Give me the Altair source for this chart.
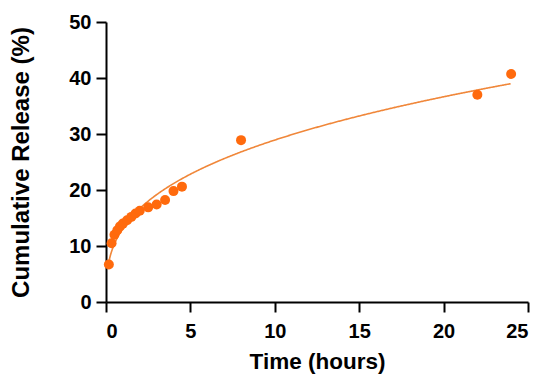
import altair as alt
import numpy as np
import pandas as pd

time_h = [0.17, 0.33, 0.5, 0.67, 0.83, 1.0, 1.25, 1.5, 1.75, 2.0, 2.5, 3.0, 3.5, 4.0, 4.5, 8.0, 22.0, 24.0]
release = [6.7, 10.5, 12.0, 12.8, 13.5, 14.0, 14.6, 15.2, 15.8, 16.3, 16.9, 17.4, 18.2, 19.8, 20.6, 28.9, 37.0, 40.7]

df = pd.DataFrame({"t": time_h, "y": release})

# Power-law (Korsmeyer-Peppas) least-squares fit y = k * t^n, fitted to the data above
t_arr = np.array(time_h)
y_arr = np.array(release)
best = None
for n in np.arange(0.15, 0.70, 0.0005):
    tn = t_arr ** n
    k = float((y_arr * tn).sum() / (tn * tn).sum())
    sse = float(((y_arr - k * tn) ** 2).sum())
    if best is None or sse < best[0]:
        best = (sse, k, float(n))
_, K_FIT, N_FIT = best

FONT = "Liberation Sans"

x = alt.X("t:Q", title="Time (hours)",
          scale=alt.Scale(domain=[0, 25], nice=False, zero=True),
          axis=alt.Axis(values=[0, 5, 10, 15, 20, 25], format="d"))
y = alt.Y("y:Q", title="Cumulative Release (%)",
          scale=alt.Scale(domain=[0, 50], nice=False),
          axis=alt.Axis(values=[0, 10, 20, 30, 40, 50], format="d"))

fit = alt.Chart(alt.sequence(min(time_h), max(time_h) + 0.001, 0.05, as_="t")).transform_calculate(
    y=f"{K_FIT} * pow(datum.t, {N_FIT})"
).mark_line(color="#F0873A", strokeWidth=1.6).encode(x=x, y=y)

pts = alt.Chart(df).mark_circle(size=100, opacity=1, color="#FF6A0D").encode(x=x, y=y)

chart = alt.layer(fit, pts).properties(
    width=422, height=280,
    autosize=alt.AutoSizeParams(type="none"),
    padding={"left": 98, "top": 14, "right": 14, "bottom": 75},
).configure_view(stroke=None).configure_axis(
    grid=False,
    domainColor="black", domainWidth=2,
    tickColor="black", tickWidth=2, tickSize=10,
    labelFont=FONT, labelFontWeight="bold", labelFontSize=20, labelColor="black",
    titleFont=FONT, titleFontWeight="bold", titleColor="black",
).configure_axisX(labelPadding=9, titlePadding=9, titleFontSize=22.5).configure_axisY(
    labelPadding=5, titlePadding=35, titleFontSize=24)

chart.save("out.html", embed_options={"renderer": "svg", "actions": False})
